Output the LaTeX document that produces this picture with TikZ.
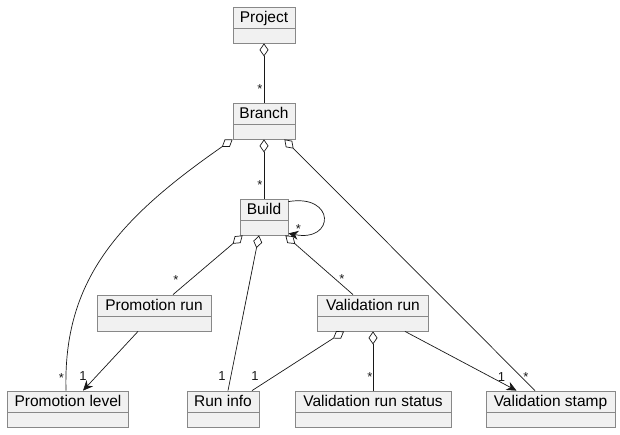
\documentclass[tikz,border=0pt]{standalone}
\usepackage{fontspec}
\setmainfont{Liberation Sans}
\usetikzlibrary{arrows.meta, positioning}

\definecolor{boxfill}{HTML}{F1F1F1}
\definecolor{boxline}{HTML}{888888}
\definecolor{edgeline}{HTML}{181818}

\begin{document}
\begin{tikzpicture}[
    x=1pt, y=-1pt,
    node distance=96pt,
    on grid,
    cls/.style={
        draw=boxline, fill=boxfill, line width=0.8pt,
        font=\fontsize{15.5}{17}\selectfont,
        inner xsep=0pt, inner ysep=0pt,
        text height=15pt, text depth=21pt,
        path picture={\draw[boxline, line width=0.8pt]
            ([yshift=-21pt]path picture bounding box.north west) --
            ([yshift=-21pt]path picture bounding box.north east);},
    },
    agg/.style={edgeline, line width=0.7pt, {Diamond[open, length=13pt, width=9pt]}-},
    nav/.style={edgeline, line width=0.7pt, -{Stealth[length=10pt, width=9pt]}},
    mult/.style={inner sep=0pt, font=\fontsize{13}{15}\selectfont, text=edgeline},
]

    \useasboundingbox (0,0) rectangle (620,434);

    \node[cls, minimum width=62pt] at (264,25) (P)   {Project};
    \node[cls, minimum width=62pt, below =of P]  (B)   {Branch};
    \node[cls, minimum width=48pt, below =of B]  (Bd)  {Build};
    \node[cls, minimum width=114pt, below left =96pt and 110pt of Bd] (PR) {Promotion run};
    \node[cls, minimum width=111pt, below right=96pt and 109pt of Bd] (VR) {Validation run};
    \node[cls, minimum width=121pt, below left =96pt and 86pt of PR]  (PL) {Promotion level};
    \node[cls, minimum width=72pt,  below right=96pt and 69pt of PR]  (RI) {Run info};
    \node[cls, minimum width=156pt, below =of VR]                     (VS) {Validation run status};
    \node[cls, minimum width=129pt, below right=96pt and 177.5pt of VR] (VT) {Validation stamp};

    \path
        (P.south) edge [agg] node [mult, at end, shift={(-4,-14)}] {*} (B.north)
        (B.south) edge [agg] node [mult, at end, shift={(-4,-14)}] {*} (Bd.north)
        ([xshift=-11pt]B.south east) edge [agg]
            node [mult, at end, shift={(-9,-14)}] {*} ([xshift=-15.5pt]VT.north)
        ([xshift=3pt]Bd.south west) edge [agg]
            node [mult, at end, shift={(3,-15)}] {*} ([xshift=19pt]PR.north)
        ([xshift=-5pt]Bd.south) edge [agg]
            node [mult, at end, shift={(-6,-15)}] {1} ([xshift=5pt]RI.north)
        ([xshift=-3pt]Bd.south east) edge [agg]
            node [mult, at end, shift={(-11,-16)}] {*} ([xshift=-20pt]VR.north)
        ([xshift=-16pt]PR.south) edge [nav]
            node [mult, at end, shift={(0,-15)}] {1} ([xshift=15pt]PL.north)
        ([xshift=-29pt]VR.south) edge [agg]
            node [mult, at end, shift={(3,-15)}] {1} ([xshift=29pt]RI.north)
        (VR.south) edge [agg]
            node [mult, at end, shift={(-3,-14)}] {*} (VS.north)
        ([xshift=32pt]VR.south) edge [nav]
            node [mult, at end, shift={(-15,-14)}] {1} ([xshift=-34pt]VT.north)
    ;

    % curved ones
    \draw[agg] (B.south west) .. controls +(-115,80) and +(-3,-110) ..
        node [mult, at end, shift={(-4.5,-13)}] {*} ([xshift=-2pt]PL.north);
    \draw[nav] ([yshift=-3pt]Bd.north east) .. controls +(47,-8) and +(47,9) ..
        node [mult, at end, shift={(10,-4)}] {*} ([yshift=2pt]Bd.south east);
\end{tikzpicture}
\end{document}
